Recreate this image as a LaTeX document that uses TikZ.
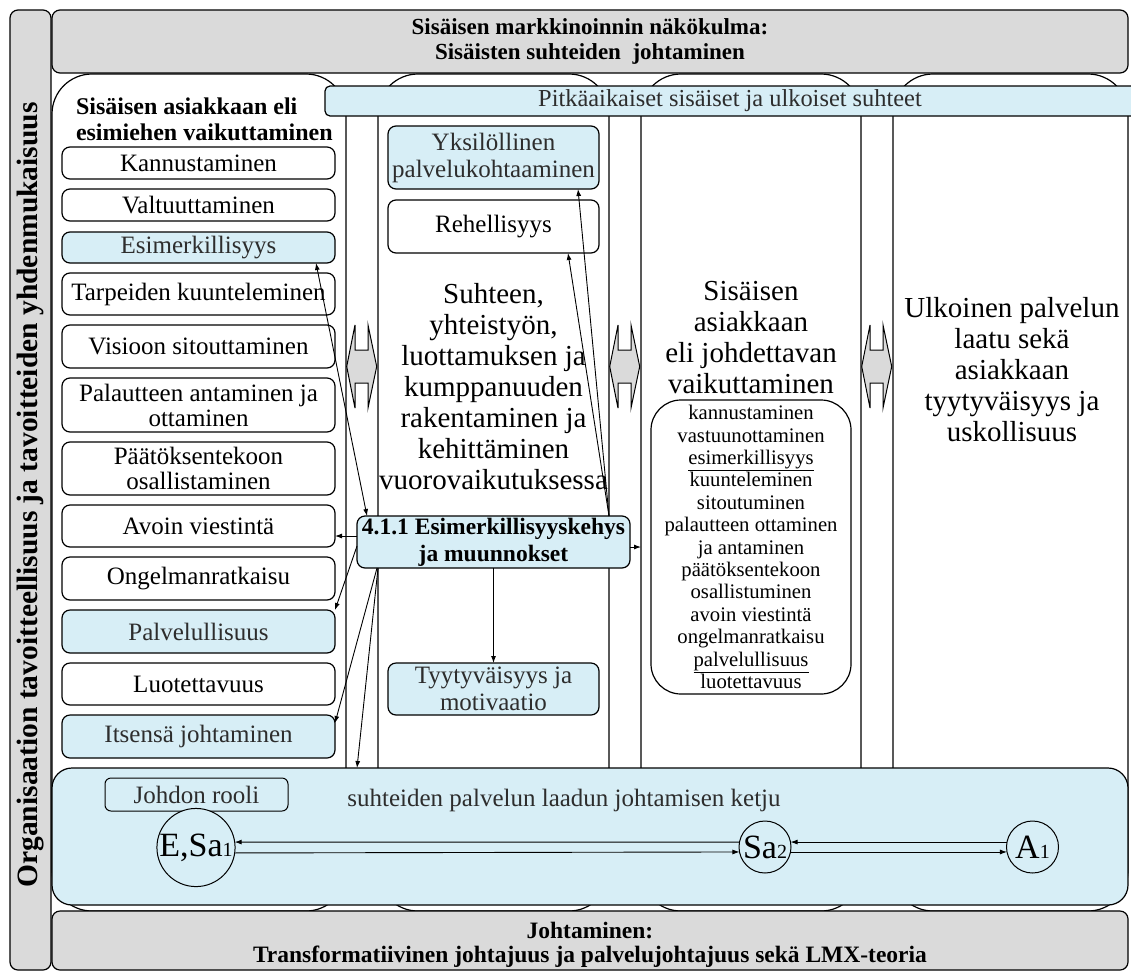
\documentclass[tikz,border=0pt]{standalone}
\usepackage{fontspec}
\setmainfont{Liberation Serif}
\usetikzlibrary{calc,arrows.meta}
\definecolor{paleblue}{RGB}{215,238,246}
\definecolor{panelgray}{RGB}{218,218,218}
\definecolor{softink}{RGB}{45,45,45}
\newcommand{\sizeto}[2]{\fontsize{#1}{#2}\selectfont}
\newcommand{\idx}[1]{{\fontsize{20}{20}\selectfont #1}}
\begin{document}
\begin{tikzpicture}[x=1pt,y=-1pt,
  every node/.style={inner sep=0pt,outer sep=0pt},
  frame/.style={draw,line width=1.2pt},
  panel/.style={frame,fill=panelgray,rounded corners=8pt},
  column/.style={frame,fill=white,rounded corners=40pt,minimum height=837pt},
  item/.style={frame,fill=white,rounded corners=8pt,minimum width=273pt,align=center,font=\sizeto{25}{25}},
  itemblue/.style={item,fill=paleblue,text=softink},
  miditem/.style={item,minimum width=211pt},
  midblue/.style={itemblue,minimum width=211pt},
  bigtext/.style={align=center,font=\sizeto{29}{31}},
  link/.style={line width=0.9pt,-{Latex[length=7pt,width=5pt]}},
  twoway/.style={line width=0.9pt,{Latex[length=7pt,width=5pt]}-{Latex[length=7pt,width=5pt]}},
  joint/.style={draw,line width=1pt,fill=panelgray,line join=miter},
  person/.style={circle,draw,line width=1pt,fill=paleblue,font=\sizeto{34}{34}}
]
\useasboundingbox (0,0) rectangle (1131,972);

% four white columns behind everything
\node[column,minimum width=294pt] (col1) at (199,492.5) {};
\node[column,minimum width=231pt] (col2) at (493.5,492.5) {};
\node[column,minimum width=220pt] (col3) at (751,492.5) {};
\node[column,minimum width=235pt] (col4) at (1010.5,492.5) {};

% outer frame panels
\node[panel,minimum width=1076pt,minimum height=63pt] (top) at (590,41.5) {};
\node[align=center,font=\bfseries\sizeto{23}{25}] (toptext) at (590,41.5)
  {Sisäisen markkinoinnin näkökulma:\\Sisäisten suhteiden\ \ johtaminen};
\node[panel,minimum width=1076pt,minimum height=59pt] (base) at (590,940.5) {};
\node[align=center,font=\bfseries\sizeto{23.5}{24}] (basetext) at (590,945)
  {Johtaminen:\\Transformatiivinen johtajuus ja palvelujohtajuus sekä LMX-teoria};
\node[panel,minimum width=41pt,minimum height=960pt] (side) at (30.5,490) {};
\node[rotate=90,font=\bfseries\sizeto{29.5}{29.5}] (sidetext) at (30.5,495)
  {Organisaation tavoitteellisuus ja tavoitteiden yhdenmukaisuus};

% long-term relations bar
\node[frame,fill=paleblue,rounded corners=5pt,minimum width=815pt,minimum height=30pt] (bar) at (732.5,101) {};
\node[font=\sizeto{24.4}{24.4},text=softink] (bartext) at (730,101) {Pitkäaikaiset sisäiset ja ulkoiset suhteet};

% block arrows in the gaps between columns
\foreach \gx in {346,609,861}{
  \draw[joint] (\gx+9,325) -- (\gx+0.7,366.5) -- (\gx+9,408) -- (\gx+9,383) -- (\gx+22,383)
    -- (\gx+22,408) -- (\gx+30.7,366.5) -- (\gx+22,325) -- (\gx+22,350) -- (\gx+9,350) -- cycle;
}

% column 1: superior's influence
\node[anchor=west,align=left,font=\bfseries\sizeto{24}{26}] (col1title) at (76,119)
  {Sisäisen asiakkaan eli\\esimiehen vaikuttaminen};
\node[item,minimum height=32pt] (kann) at (198.5,163) {Kannustaminen};
\node[item,minimum height=32pt] (valt) at (198.5,205) {Valtuuttaminen};
\node[itemblue,minimum height=31pt] (esim) at (198.5,247.5) {Esimerkillisyys};
\node[item,minimum height=42pt] (tarp) at (198.5,294) {Tarpeiden kuunteleminen};
\node[item,minimum height=43pt] (visi) at (198.5,346.5) {Visioon sitouttaminen};
\node[item,minimum height=54pt] (pala) at (198.5,405) {Palautteen antaminen ja\\ottaminen};
\node[item,minimum height=53pt] (paat) at (198.5,468.5) {Päätöksentekoon\\osallistaminen};
\node[item,minimum height=42pt] (avoi) at (198.5,526) {Avoin viestintä};
\node[item,minimum height=43pt] (onge) at (198.5,578.5) {Ongelmanratkaisu};
\node[itemblue,minimum height=43pt] (palv) at (198.5,631.5) {Palvelullisuus};
\node[item,minimum height=42pt] (luot) at (198.5,684) {Luotettavuus};
\node[itemblue,minimum height=43pt] (itse) at (198.5,736.5) {Itsensä johtaminen};

% column 2: relationship building
\node[midblue,minimum height=63pt,font=\sizeto{25}{27}] (yksi) at (493.5,157.5) {Yksilöllinen\\palvelukohtaaminen};
\node[miditem,minimum height=53pt] (rehe) at (493.5,226.5) {Rehellisyys};
\node[bigtext] (col2text) at (493.5,386.5)
  {Suhteen,\\yhteistyön,\\luottamuksen ja\\kumppanuuden\\rakentaminen ja\\kehittäminen\\vuorovaikutuksessa};
\node[midblue,minimum height=52pt,font=\sizeto{25}{27}] (tyyt) at (493.5,689) {Tyytyväisyys ja\\motivaatio};

% column 3: subordinate's influence
\node[bigtext] (col3title) at (751,337.5) {Sisäisen\\asiakkaan\\eli johdettavan\\vaikuttaminen};
\node[frame,fill=white,rounded corners=30pt,minimum width=200pt,minimum height=294pt,
      align=center,font=\sizeto{20.7}{22.4}] (traits) at (751,547)
  {kannustaminen\\vastuunottaminen\\\underline{esimerkillisyys}\\kuunteleminen\\sitoutuminen\\palautteen ottaminen\\ja antaminen\\päätöksentekoon\\osallistuminen\\avoin viestintä\\ongelmanratkaisu\\\underline{palvelullisuus}\\luotettavuus};

% column 4: external quality
\node[bigtext] (col4text) at (1012,370)
  {Ulkoinen palvelun\\laatu sekä\\asiakkaan\\tyytyväisyys ja\\uskollisuus};

% service quality chain
\node[frame,fill=paleblue,rounded corners=20pt,minimum width=1076pt,minimum height=137pt] (chain) at (590,836.5) {};
\node[frame,line width=1pt,fill=paleblue,rounded corners=6pt,minimum width=183pt,minimum height=33pt,
      font=\sizeto{25}{25},text=softink] (role) at (196.5,794.5) {Johdon rooli};
\node[font=\sizeto{25}{25},text=softink] (chaintext) at (564,800) {suhteiden palvelun laadun johtamisen ketju};
\node[person,minimum size=72pt] (esa) at (196,847.5) {E,Sa\idx{1}};
\node[person,minimum size=52pt] (sa2) at (765,847) {Sa\idx{2}};
\node[person,minimum size=52pt] (a1) at (1032.5,847) {A\idx{1}};
\draw[link] (sa2.169) -- (esa.8);
\draw[link] (esa.-8) -- (sa2.191);
\draw[link] (a1.169) -- (sa2.11);
\draw[link] (sa2.-11) -- (a1.191);

% exemplarity framework and its links
\node[itemblue,minimum height=52pt,font=\bfseries\sizeto{23.5}{27},text=black] (e411) at (493.5,542)
  {4.1.1 Esimerkillisyyskehys\\ja muunnokset};
\draw[twoway] ($(esim.south east)+(-19,0)$) -- ($(e411.north west)+(10,0)$);
\draw[link] ($(e411.west)+(0,-6)$) -- ($(avoi.east)+(0,10)$);
\draw[link] ($(e411.west)+(0,4)$) -- (palv.north east);
\draw[link] ($(e411.south west)+(20,0)$) -- ($(itse.east)+(0,-13.5)$);
\draw[link] ($(e411.south west)+(21,0)$) -- ($(chain.north west)+(305,0)$);
\draw[link] ($(e411.north east)+(-21,0)$) -- ($(rehe.south east)+(-31,0)$);
\draw[link] ($(e411.north east)+(-21,0)$) -- ($(yksi.south east)+(-21,0)$);
\draw[link] ($(e411.east)+(0,5)$) -- ($(e411.east -| col3.west)+(0,5)$);
\draw[link] (e411.south) -- (tyyt.north);
\end{tikzpicture}
\end{document}
